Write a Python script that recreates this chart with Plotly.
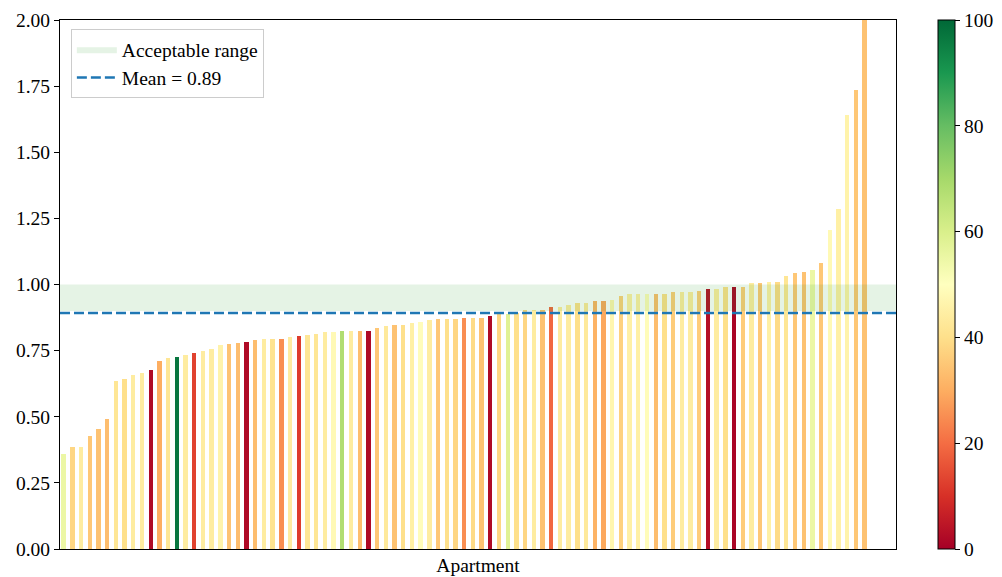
import plotly.graph_objects as go

# ---- data ----
ratios = [
    0.361, 0.385, 0.385, 0.429, 0.452, 0.492, 0.634, 0.644, 0.659, 0.665,
    0.678, 0.712, 0.722, 0.727, 0.733, 0.740, 0.750, 0.756, 0.772, 0.774,
    0.779, 0.784, 0.790, 0.795, 0.795, 0.795, 0.801, 0.806, 0.808, 0.813,
    0.819, 0.819, 0.824, 0.824, 0.824, 0.824, 0.835, 0.842, 0.848, 0.848,
    0.853, 0.858, 0.864, 0.869, 0.869, 0.869, 0.875, 0.875, 0.875, 0.882,
    0.888, 0.888, 0.892, 0.902, 0.902, 0.902, 0.914, 0.914, 0.921, 0.931,
    0.931, 0.936, 0.936, 0.942, 0.958, 0.963, 0.963, 0.963, 0.965, 0.965,
    0.970, 0.970, 0.970, 0.976, 0.982, 0.982, 0.989, 0.989, 0.989, 1.004,
    1.004, 1.010, 1.010, 1.033, 1.043, 1.049, 1.055, 1.083, 1.206, 1.286,
    1.642, 1.737, 2.300,
]
scores = [
    55, 38, 44, 35, 34, 33, 42, 40, 44, 44,
    2, 30, 42, 97, 44, 13, 44, 44, 46, 34,
    33, 2, 33, 44, 41, 25, 44, 12, 42, 42,
    44, 48, 68, 44, 33, 2, 35, 43, 34, 40,
    45, 49, 44, 35, 40, 38, 25, 39, 34, 2,
    38, 58, 40, 38, 44, 34, 19, 44, 44, 40,
    43, 31, 29, 47, 37, 45, 45, 49, 33, 40,
    36, 44, 44, 36, 3, 44, 40, 1, 36, 44,
    35, 45, 39, 42, 35, 34, 55, 35, 48, 45,
    46, 35, 34,
]
apartments = list(range(len(ratios)))
mean_value = 0.892
mean_label = "Mean = 0.89"
band_low, band_high = 0.9, 1.0
band_label = "Acceptable range"
y_ticks = [0, 0.25, 0.5, 0.75, 1.0, 1.25, 1.5, 1.75, 2.0]
cbar_ticks = [0, 20, 40, 60, 80, 100]
x_range = [-0.42, 95.6]

FONT = "Liberation Serif"
FS = 19.5

fig = go.Figure()

fig.add_trace(go.Bar(
    x=apartments, y=ratios, width=0.5,
    marker=dict(
        color=scores, colorscale="RdYlGn", cmin=0, cmax=100,
        line=dict(width=0),
        colorbar=dict(
            thickness=17, len=1, lenmode="fraction", y=0.5, yanchor="middle",
            x=1.050, xanchor="left", xpad=0, ypad=0,
            outlinecolor="black", outlinewidth=1,
            tickvals=cbar_ticks, ticks="outside", ticklen=5, tickcolor="black",
            tickfont=dict(family=FONT, size=FS, color="black"),
        ),
    ),
    showlegend=False, hoverinfo="x+y",
))

fig.add_trace(go.Scatter(
    x=[x_range[0], x_range[1], x_range[1], x_range[0], x_range[0]],
    y=[band_low, band_low, band_high, band_high, band_low],
    fill="toself", fillcolor="rgba(44,160,44,0.12)", mode="lines",
    line=dict(width=0, color="rgba(44,160,44,0.12)"),
    name=band_label,
))

fig.add_trace(go.Scatter(
    x=[x_range[0], x_range[1]], y=[mean_value, mean_value], mode="lines",
    line=dict(color="#1f77b4", width=2.5, dash="10px,4px"),
    name=mean_label,
))

fig.update_layout(
    width=994, height=569,
    margin=dict(l=52, r=106, t=12, b=28, autoexpand=False),
    plot_bgcolor="white", paper_bgcolor="white",
    font=dict(family=FONT, size=FS, color="black"),
    bargap=0,
    legend=dict(
        x=0.013, y=0.983, xanchor="left", yanchor="top",
        bgcolor="white", bordercolor="#cccccc", borderwidth=1,
        font=dict(family=FONT, size=FS, color="black"),
        itemwidth=40, tracegroupgap=0,
    ),
    xaxis=dict(
        range=x_range, showticklabels=False, ticks="", showgrid=False,
        zeroline=False, showline=True, linecolor="black", linewidth=1, mirror=True,
        title=dict(text="Apartment", standoff=9, font=dict(family=FONT, size=FS)),
        automargin=False,
    ),
    yaxis=dict(
        range=[0, 2], tickvals=y_ticks, tickformat=".2f", ticks="outside",
        ticklen=5, tickcolor="black", showgrid=False, zeroline=False,
        showline=True, linecolor="black", linewidth=1, mirror=True,
        tickfont=dict(family=FONT, size=FS, color="black"), automargin=False,
    ),
)

fig.write_html("out.html")
